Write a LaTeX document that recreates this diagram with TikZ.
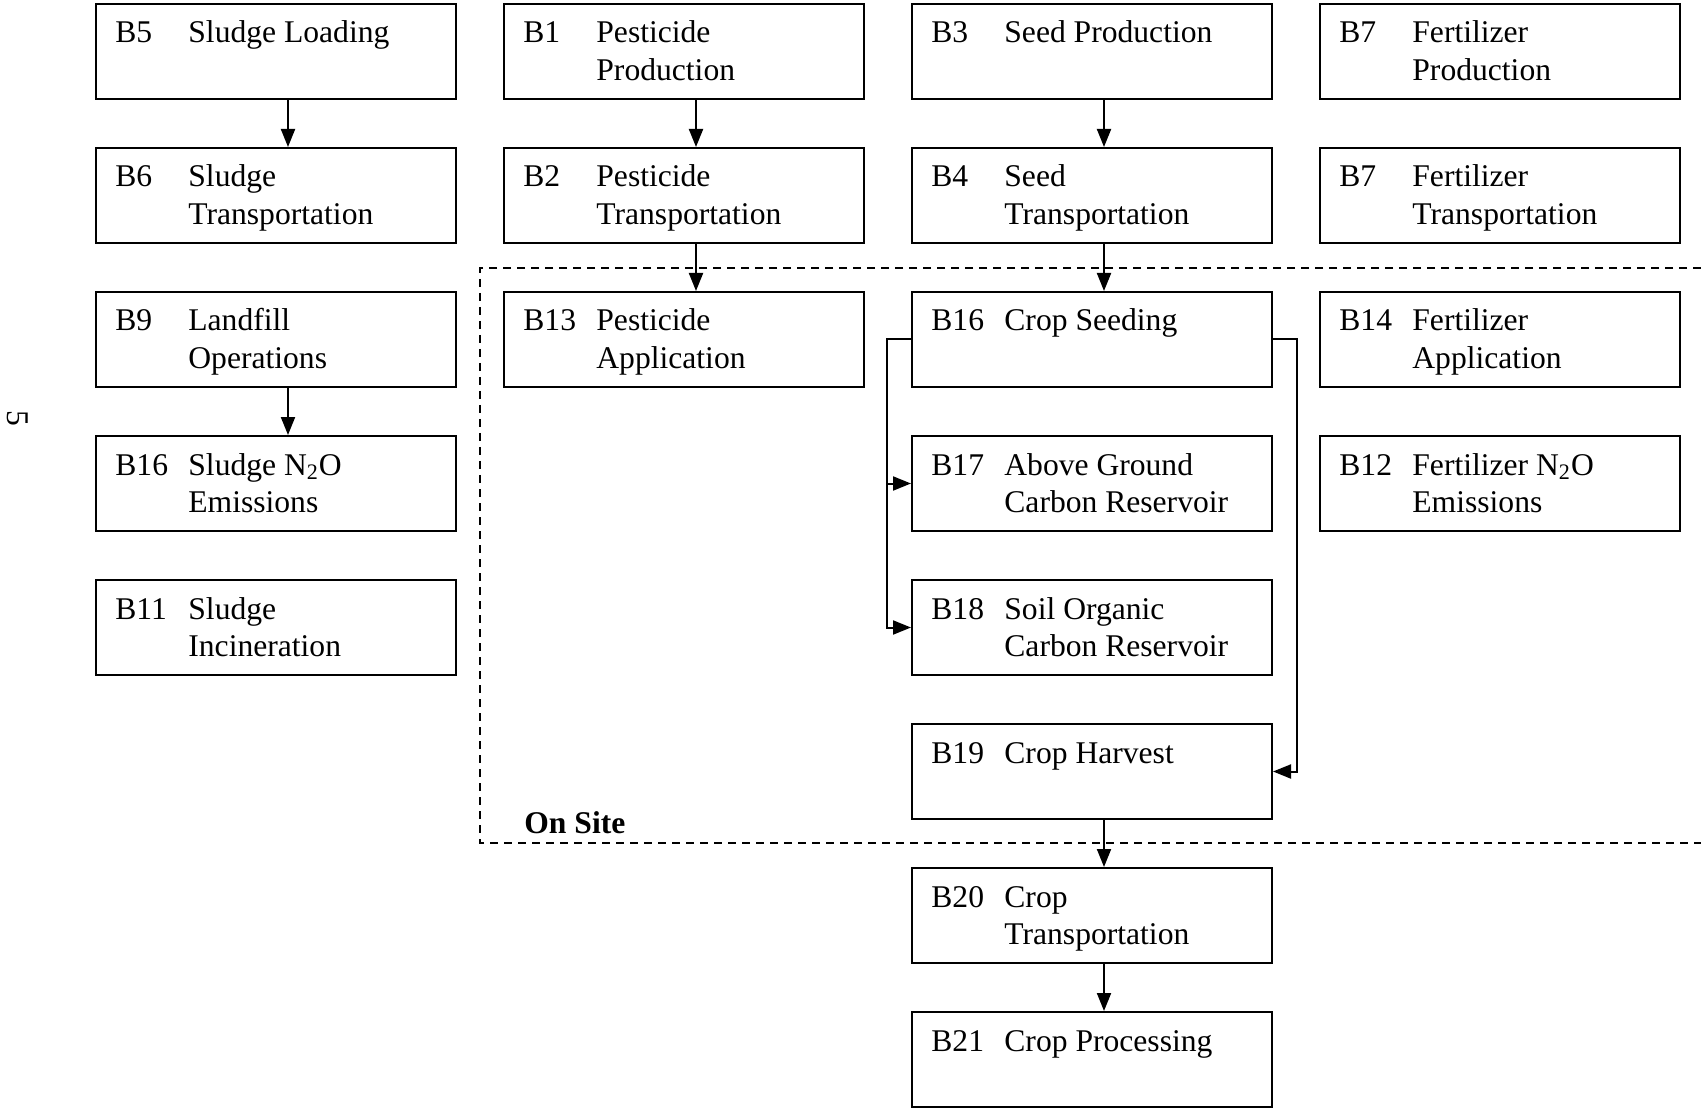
\documentclass[tikz,border=0pt]{standalone}
\usepackage{fontspec}
\setmainfont{Liberation Serif}
\usetikzlibrary{arrows.meta}

\tikzset{
  blk/.style={draw, line width=1pt, minimum width=180pt, minimum height=47.5pt, inner sep=0pt, anchor=north west},
  lbl/.style={anchor=base west, inner sep=0pt, font=\fontsize{15.8}{18.85}\selectfont},
  con/.style={line width=1pt},
  arr/.style={con, -{Triangle[length=9pt,width=7pt]}}
}
\newcommand{\blabel}[3]{\begin{tabular}[t]{@{}p{36.5pt}@{}l@{}}#1 & #2\\ & #3\end{tabular}}

\begin{document}
\begin{tikzpicture}[x=0.5pt,y=-0.5pt]
\useasboundingbox (0,0) rectangle (1701,1112);

%On site boundary
\draw [con, dash pattern=on 4pt off 3pt] (1701,268) -- (480,268) -- (480,843) -- (1701,843) ;
\node [lbl, font=\fontsize{15.8}{18.85}\selectfont\bfseries] (onsite) at (524,833) {On Site};
%page number
\node [lbl, anchor=center, rotate=-90] (pgno) at (18,418) {5};

%Boxes: first column
\node [blk] (b5) at (95,3) {};
\node [blk] (b6) at (95,147) {};
\node [blk] (b9) at (95,291) {};
\node [blk] (b16s) at (95,435) {};
\node [blk] (b11) at (95,579) {};
%Boxes: second column
\node [blk] (b1) at (503,3) {};
\node [blk] (b2) at (503,147) {};
\node [blk] (b13) at (503,291) {};
%Boxes: third column
\node [blk] (b3) at (911,3) {};
\node [blk] (b4) at (911,147) {};
\node [blk] (b16) at (911,291) {};
\node [blk] (b17) at (911,435) {};
\node [blk] (b18) at (911,579) {};
\node [blk] (b19) at (911,723) {};
\node [blk] (b20) at (911,867) {};
\node [blk] (b21) at (911,1011) {};
%Boxes: fourth column
\node [blk] (b7p) at (1319,3) {};
\node [blk] (b7t) at (1319,147) {};
\node [blk] (b14) at (1319,291) {};
\node [blk] (b12) at (1319,435) {};

% Text Node
\node [lbl] (t5) at ([shift={(20,40)}]b5.north west) {\blabel{B5}{Sludge Loading}{}};
\node [lbl] (t6) at ([shift={(20,40)}]b6.north west) {\blabel{B6}{Sludge}{Transportation}};
\node [lbl] (t9) at ([shift={(20,40)}]b9.north west) {\blabel{B9}{Landfill}{Operations}};
\node [lbl] (t16s) at ([shift={(20,40)}]b16s.north west) {\blabel{B16}{Sludge N\textsubscript{2}O}{Emissions}};
\node [lbl] (t11) at ([shift={(20,40)}]b11.north west) {\blabel{B11}{Sludge}{Incineration}};
% Text Node
\node [lbl] (t1) at ([shift={(20,40)}]b1.north west) {\blabel{B1}{Pesticide}{Production}};
\node [lbl] (t2) at ([shift={(20,40)}]b2.north west) {\blabel{B2}{Pesticide}{Transportation}};
\node [lbl] (t13) at ([shift={(20,40)}]b13.north west) {\blabel{B13}{Pesticide}{Application}};
% Text Node
\node [lbl] (t3) at ([shift={(20,40)}]b3.north west) {\blabel{B3}{Seed Production}{}};
\node [lbl] (t4) at ([shift={(20,40)}]b4.north west) {\blabel{B4}{Seed}{Transportation}};
\node [lbl] (t16) at ([shift={(20,40)}]b16.north west) {\blabel{B16}{Crop Seeding}{}};
\node [lbl] (t17) at ([shift={(20,40)}]b17.north west) {\blabel{B17}{Above Ground}{Carbon Reservoir}};
\node [lbl] (t18) at ([shift={(20,40)}]b18.north west) {\blabel{B18}{Soil Organic}{Carbon Reservoir}};
\node [lbl] (t19) at ([shift={(20,40)}]b19.north west) {\blabel{B19}{Crop Harvest}{}};
\node [lbl] (t20) at ([shift={(20,40)}]b20.north west) {\blabel{B20}{Crop}{Transportation}};
\node [lbl] (t21) at ([shift={(20,40)}]b21.north west) {\blabel{B21}{Crop Processing}{}};
% Text Node
\node [lbl] (t7p) at ([shift={(20,40)}]b7p.north west) {\blabel{B7}{Fertilizer}{Production}};
\node [lbl] (t7t) at ([shift={(20,40)}]b7t.north west) {\blabel{B7}{Fertilizer}{Transportation}};
\node [lbl] (t14) at ([shift={(20,40)}]b14.north west) {\blabel{B14}{Fertilizer}{Application}};
\node [lbl] (t12) at ([shift={(20,40)}]b12.north west) {\blabel{B12}{Fertilizer N\textsubscript{2}O}{Emissions}};

%Straight Lines
\draw [arr] ([xshift=6pt]b5.south) -- ([xshift=6pt]b6.north) ;
\draw [arr] ([xshift=6pt]b9.south) -- ([xshift=6pt]b16s.north) ;
\draw [arr] ([xshift=6pt]b1.south) -- ([xshift=6pt]b2.north) ;
\draw [arr] ([xshift=6pt]b2.south) -- ([xshift=6pt]b13.north) ;
\draw [arr] ([xshift=6pt]b3.south) -- ([xshift=6pt]b4.north) ;
\draw [arr] ([xshift=6pt]b4.south) -- ([xshift=6pt]b16.north) ;
\draw [arr] ([xshift=6pt]b19.south) -- ([xshift=6pt]b20.north) ;
\draw [arr] ([xshift=6pt]b20.south) -- ([xshift=6pt]b21.north) ;
%Elbow Lines
\draw [arr] (b16.west) -- ++(-24,0) |- (b17.west) ;
\draw [arr] (b16.west) -- ++(-24,0) |- (b18.west) ;
\draw [arr] (b16.east) -- ++(24,0) |- (b19.east) ;

\end{tikzpicture}
\end{document}
